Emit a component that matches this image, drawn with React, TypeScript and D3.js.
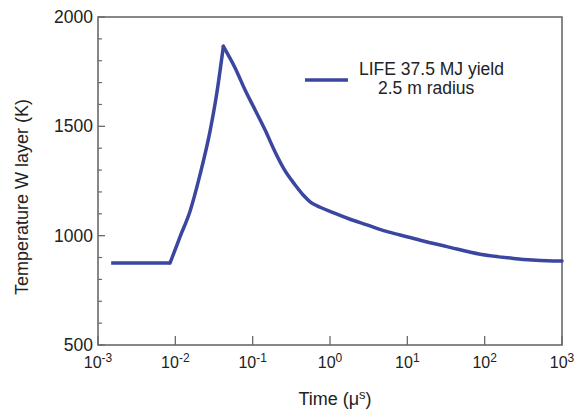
import React from "react";
import * as d3 from "d3";

const times = [
  0.00148, 0.00855, 0.0115, 0.0155, 0.0209, 0.0282, 0.0344, 0.0418,
  0.0593, 0.0798, 0.1076, 0.1449, 0.195, 0.263, 0.354, 0.45, 0.553, 0.746,
  1.1, 1.82, 3.0, 4.92, 8.09, 14.7, 32.5, 87.7, 237, 640, 1000,
];
const temps = [
  875, 875, 995, 1112, 1280, 1480, 1652, 1866,
  1767, 1666, 1575, 1483, 1383, 1296, 1232, 1186, 1155, 1130,
  1105, 1075, 1049, 1023, 1003, 979, 950, 915, 896, 885, 884,
];
const xTickExps = [-3, -2, -1, 0, 1, 2, 3];
const yMajorTicks = [500, 1000, 1500, 2000];
const yMinorTicks = [600, 700, 800, 900, 1100, 1200, 1300, 1400, 1600, 1700, 1800, 1900];
const legendLines = ["LIFE 37.5 MJ yield", "2.5 m radius"];

const W = 584;
const H = 411;
const M = { left: 98, right: 562, top: 17, bottom: 345 };
const AX = "#6a6a6a";
const TXT = "#222";
const LINE = "#3a46a0";
const FONT = "Liberation Sans, Arial, sans-serif";

export default function App() {
  const x = d3.scaleLog().domain([1e-3, 1e3]).range([M.left, M.right]);
  const y = d3.scaleLinear().domain([500, 2000]).range([M.bottom, M.top]);
  const pts = times.map((t, i) => [t, temps[i]] as [number, number]);
  const peakIdx = d3.maxIndex(temps);
  const flat = pts.slice(0, 2);
  const rise = pts.slice(1, peakIdx + 1);
  const decay = pts.slice(peakIdx);
  const lin = d3
    .line<[number, number]>()
    .x((d) => x(d[0]))
    .y((d) => y(d[1]));
  const smooth = d3
    .line<[number, number]>()
    .x((d) => x(d[0]))
    .y((d) => y(d[1]))
    .curve(d3.curveMonotoneX);

  return (
    <svg
      width={W}
      height={H}
      style={{ position: "absolute", left: 0, top: 0, background: "#fff" }}
      fontFamily={FONT}
    >
      <rect
        x={M.left}
        y={M.top}
        width={M.right - M.left}
        height={M.bottom - M.top}
        fill="none"
        stroke={AX}
        strokeWidth={1.6}
      />
      {yMajorTicks.map((v) => (
        <g key={"ym" + v}>
          <line x1={M.left} x2={M.left + 7} y1={y(v)} y2={y(v)} stroke={AX} strokeWidth={1.3} />
          <text x={M.left - 5} y={y(v) + 6} textAnchor="end" fontSize={17.5} fill={TXT}>
            {v}
          </text>
        </g>
      ))}
      {yMinorTicks.map((v) => (
        <line key={"yn" + v} x1={M.left} x2={M.left + 4} y1={y(v)} y2={y(v)} stroke={AX} strokeWidth={1.2} />
      ))}
      {xTickExps.map((e) => {
        const px = x(Math.pow(10, e));
        return (
          <g key={"x" + e}>
            <line x1={px} x2={px} y1={M.bottom} y2={M.bottom - 9} stroke={AX} strokeWidth={1.3} />
            <text x={px} y={368} textAnchor="middle" fontSize={16} fill={TXT}>
              10
              <tspan dy={-6} fontSize={12}>
                {String(e)}
              </tspan>
            </text>
          </g>
        );
      })}
      <text x={335} y={405} textAnchor="middle" fontSize={18} fill={TXT}>
        Time (μ
        <tspan dy={-6} fontSize={13}>
          s
        </tspan>
        <tspan dy={6}>)</tspan>
      </text>
      <text
        transform={`translate(28, ${(M.top + M.bottom) / 2 + 16}) rotate(-90)`}
        textAnchor="middle"
        fontSize={18}
        fill={TXT}
      >
        Temperature W layer (K)
      </text>
      <path d={lin(flat) || ""} fill="none" stroke={LINE} strokeWidth={3.5} strokeLinejoin="round" />
      <path d={smooth(rise) || ""} fill="none" stroke={LINE} strokeWidth={3.5} strokeLinejoin="round" strokeLinecap="round" />
      <path d={smooth(decay) || ""} fill="none" stroke={LINE} strokeWidth={3.5} strokeLinejoin="round" strokeLinecap="round" />
      <line x1={305} x2={348} y1={80} y2={80} stroke={LINE} strokeWidth={3.5} />
      <text x={359} y={75} fontSize={17.5} fill={TXT}>
        {legendLines[0]}
      </text>
      <text x={378} y={94} fontSize={17.5} fill={TXT}>
        {legendLines[1]}
      </text>
    </svg>
  );
}
